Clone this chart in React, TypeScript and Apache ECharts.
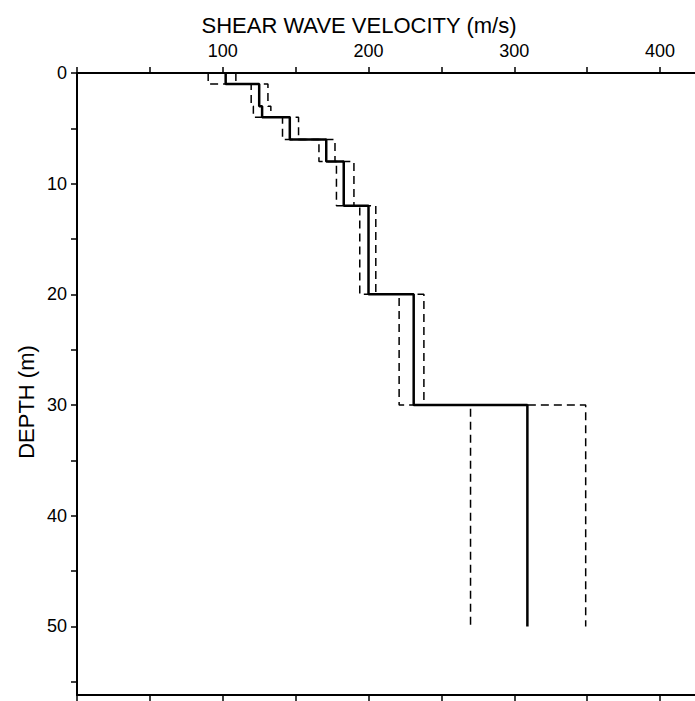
import React, { useEffect, useRef } from "react";
import * as echarts from "echarts";

// Layer boundaries (m)
const layerTop = [0, 1, 3, 4, 6, 8, 12, 20, 30];
const layerBottom = [1, 3, 4, 6, 8, 12, 20, 30, 50];
// Shear wave velocities (m/s)
const meanVs = [102, 125, 127, 146, 171, 183, 200, 231, 309];
const lowerVs = [90, 119.5, 121, 141, 166, 178, 194, 221, 270];
const upperVs = [109, 131, 133, 152, 177, 190, 205, 238, 349];

const xTicks = [0, 50, 100, 150, 200, 250, 300, 350, 400];
const xLabels = [100, 200, 300, 400];
const yTicks = [0, 5, 10, 15, 20, 25, 30, 35, 40, 45, 50, 55];
const yLabels = [0, 10, 20, 30, 40, 50];

const FONT = "'Liberation Sans', Arial, Helvetica, sans-serif";

function profile(vs: number[]) {
  const pts: number[][] = [];
  vs.forEach((v, i) => {
    pts.push([v, layerTop[i]]);
    pts.push([v, layerBottom[i]]);
  });
  return pts;
}

export default function App() {
  const ref = useRef<HTMLDivElement>(null);
  useEffect(() => {
    if (!ref.current) return;
    const chart = echarts.init(ref.current, undefined, { renderer: "svg" });
    const mkLine = () => ({ show: true, onZero: false, lineStyle: { color: "#000", width: 2 } });
    const mkTick = (vals: number[]) => ({
      show: true,
      customValues: vals,
      length: 6,
      lineStyle: { color: "#000", width: 1.5 },
    });
    const gridRect = { left: 77, right: 0, top: 73, bottom: 6, containLabel: false, outerBoundsMode: "none" };
    chart.setOption({
      animation: false,
      backgroundColor: "#fff",
      grid: [gridRect, { ...gridRect }],
      xAxis: [
        {
          type: "value",
          gridIndex: 0,
          position: "top",
          min: 0,
          max: 424,
          interval: 50,
          splitLine: { show: false },
          axisLine: mkLine(),
          axisTick: mkTick(xTicks),
          axisLabel: {
            customValues: xLabels,
            margin: 13,
            color: "#000",
            fontSize: 18,
            fontFamily: FONT,
            formatter: (v: number) => (v > 0 && v % 100 === 0 ? String(v) : ""),
          },
        },
        {
          type: "value",
          gridIndex: 1,
          position: "bottom",
          min: 0,
          max: 424,
          interval: 50,
          splitLine: { show: false },
          axisLine: mkLine(),
          axisTick: mkTick(xTicks),
          axisLabel: { show: false },
        },
      ],
      yAxis: [
        {
          type: "value",
          gridIndex: 0,
          inverse: true,
          min: 0,
          max: 56.2,
          interval: 5,
          splitLine: { show: false },
          axisLine: mkLine(),
          axisTick: mkTick(yTicks),
          axisLabel: {
            customValues: yLabels,
            margin: 10,
            color: "#000",
            fontSize: 18,
            fontFamily: FONT,
            formatter: (v: number) => (v % 10 === 0 ? String(v) : ""),
          },
        },
        {
          type: "value",
          gridIndex: 1,
          show: false,
          inverse: true,
          min: 0,
          max: 56.2,
        },
      ],
      graphic: [
        {
          type: "text",
          x: 359,
          y: 25,
          style: {
            text: "SHEAR WAVE VELOCITY (m/s)",
            fontSize: 22,
            fontFamily: FONT,
            fill: "#000",
            align: "center",
            verticalAlign: "middle",
          },
        },
        {
          type: "text",
          x: 26,
          y: 402,
          rotation: Math.PI / 2,
          style: {
            text: "DEPTH (m)",
            fontSize: 22,
            fontFamily: FONT,
            fill: "#000",
            align: "center",
            verticalAlign: "middle",
          },
        },
      ],
      series: [
        {
          type: "line",
          xAxisIndex: 0,
          yAxisIndex: 0,
          data: profile(lowerVs),
          showSymbol: false,
          lineStyle: { color: "#000", width: 1.5, type: [8, 5] },
        },
        {
          type: "line",
          xAxisIndex: 0,
          yAxisIndex: 0,
          data: profile(upperVs),
          showSymbol: false,
          lineStyle: { color: "#000", width: 1.5, type: [8, 5] },
        },
        {
          type: "line",
          xAxisIndex: 0,
          yAxisIndex: 0,
          data: profile(meanVs),
          showSymbol: false,
          lineStyle: { color: "#000", width: 2.5 },
        },
      ],
    });
    return () => chart.dispose();
  }, []);
  return (
    <div
      ref={ref}
      style={{ position: "fixed", left: 0, top: 0, width: 695, height: 701 }}
    />
  );
}
